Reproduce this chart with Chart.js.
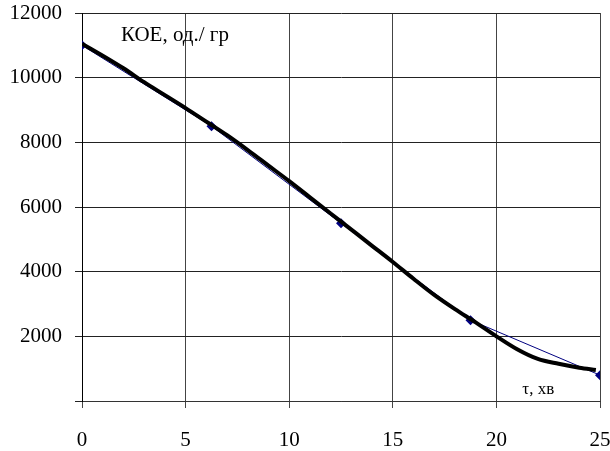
<!DOCTYPE html>
<html>
<head>
<meta charset="utf-8">
<script src="https://cdn.jsdelivr.net/npm/chart.js@4.4.1/dist/chart.umd.min.js"></script>
<style>
    html, body { margin: 0; padding: 0; background: #fff; }
    #wrap { width: 610px; height: 451px; }
</style>
</head>
<body>
<div id="wrap"><canvas id="koeChart" width="610" height="451"></canvas></div>
<script>
// Measured points (blue diamonds)
const measT = [0, 6.25, 12.5, 18.75, 25];
const measKoe = [11000, 8500, 5500, 2500, 800];

// Smoothed curve (thick black line)
const curveT = [0, 1, 2, 3, 4, 5, 6, 7, 8, 9, 10, 11, 12, 13, 14, 15, 16, 17, 18, 19, 20, 21, 22, 23, 24, 24.8];
const curveKoe = [11050, 10680, 10290, 9860, 9460, 9060, 8640, 8220, 7760, 7280, 6800, 6300, 5800, 5300, 4800, 4300, 3780, 3280, 2840, 2430, 2000, 1600, 1300, 1150, 1030, 960];

// Axis ticks
const xTicks = [0, 5, 10, 15, 20, 25];
const yTicks = [0, 2000, 4000, 6000, 8000, 10000, 12000];

// Labels written inside the plot
const yTitle = 'КОЕ, од./ гр';
const xTitle = 'τ, хв';

const toPoints = (xs, ys) => xs.map((x, i) => ({ x: x, y: ys[i] }));

const FONT = 'Liberation Serif, Times New Roman, serif';

// draws the two in-plot captions at data positions
const captionPlugin = {
    id: 'captions',
    afterDraw(chart) {
        const ctx = chart.ctx;
        const xs = chart.scales.x, ys = chart.scales.y;
        ctx.save();
        ctx.fillStyle = '#000';
        ctx.textBaseline = 'middle';
        ctx.textAlign = 'left';
        ctx.font = '21px ' + FONT;
        ctx.fillText(yTitle, xs.getPixelForValue(1.88), ys.getPixelForValue(11290));
        ctx.font = '17px ' + FONT;
        ctx.fillText(xTitle, xs.getPixelForValue(21.25), ys.getPixelForValue(370));
        ctx.restore();
    }
};

const ctx = document.getElementById('koeChart').getContext('2d');
new Chart(ctx, {
    type: 'scatter',
    data: {
        datasets: [
            {
                label: 'curve',
                data: toPoints(curveT, curveKoe),
                showLine: true,
                borderColor: '#000',
                borderWidth: 4,
                pointRadius: 0,
                cubicInterpolationMode: 'monotone',
                order: 1
            },
            {
                label: 'measured',
                data: toPoints(measT, measKoe),
                showLine: true,
                borderColor: '#000080',
                backgroundColor: '#000080',
                borderWidth: 1,
                pointStyle: 'rectRot',
                pointRadius: 5,
                pointBorderWidth: 0,
                order: 2
            }
        ]
    },
    options: {
        responsive: false,
        animation: false,
        layout: { padding: { top: 13, right: 10, left: 0, bottom: 0 } },
        plugins: { legend: { display: false }, tooltip: { enabled: false } },
        scales: {
            x: {
                type: 'linear',
                min: 0, max: 25,
                afterBuildTicks: (s) => { s.ticks = xTicks.map(v => ({ value: v })); },
                afterFit: (s) => { s.height = 50; s.paddingLeft = 0; s.paddingRight = 0; },
                grid: { color: '#444', lineWidth: 1, tickLength: 7, drawTicks: true },
                border: { color: '#333', width: 1 },
                ticks: { color: '#000', font: { family: FONT, size: 21 }, padding: 20, maxRotation: 0 }
            },
            y: {
                min: 0, max: 12000,
                afterBuildTicks: (s) => { s.ticks = yTicks.map(v => ({ value: v })); },
                afterFit: (s) => { s.width = 82; s.paddingTop = 0; s.paddingBottom = 0; },
                grid: { color: '#222', lineWidth: 1, tickLength: 7 },
                border: { color: '#000', width: 1 },
                ticks: {
                    color: '#000', font: { family: FONT, size: 21 }, padding: 13,
                    callback: (v) => v === 0 ? '' : String(v)
                }
            }
        }
    },
    plugins: [captionPlugin]
});
</script>
</body>
</html>
